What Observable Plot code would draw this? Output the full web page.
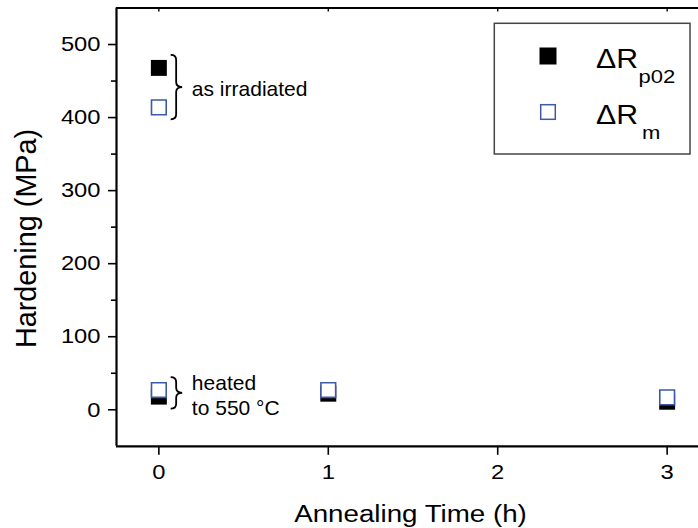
<!DOCTYPE html>
<html><head><meta charset="utf-8">
<script src="https://cdn.jsdelivr.net/npm/d3@7"></script>
<script src="https://cdn.jsdelivr.net/npm/@observablehq/plot@0.6"></script>
<style>
html,body{margin:0;padding:0;background:#fff;overflow:hidden}
#chart{width:698px;height:528px;overflow:hidden;position:relative}
#chart svg{max-width:none !important;width:710px !important;height:528px !important;display:block}
</style></head><body><div id="chart"></div>
<script>
// ---- data ----
const time = [0, 0, 1, 3];
const rp02 = [468, 18, 22, 11];
const rm = [414, 27, 27, 17];
const seriesMain = ["ΔR", "ΔR"];
const seriesSub = ["p02", "m"];
const xTicks = [0, 1, 2, 3];
const yTicks = [0, 100, 200, 300, 400, 500];
const yMinor = [50, 150, 250, 350, 450];
const annText = ["as irradiated", "heated\nto 550 °C"];
const annY = [440, 21];
const annGroups = [[0], [1]]; // indices of points each brace embraces
const xTitle = "Annealing Time (h)";
const yTitle = "Hardening (MPa)";

const blue = "#3d5aa8";
const font = "'Liberation Sans', Arial, sans-serif";

const pts = time.map((t, i) => ({t, p02: rp02[i], m: rm[i]}));
const anns = annText.map((s, i) => ({s, y: annY[i]}));

const plot = Plot.plot({
  width: 710, height: 528,
  marginLeft: 116, marginRight: 1, marginTop: 7.5, marginBottom: 82.2,
  style: {fontFamily: font, background: "#fff", color: "#000"},
  x: {domain: [-0.25, 3.25]},
  y: {domain: [-50, 550]},
  marks: [
    Plot.axisY({ticks: yTicks, tickSize: 8, tickPadding: 8, fontSize: 21, label: null, strokeWidth: 1.6, tickFormat: d => String(d)}),
    Plot.axisY({ticks: yMinor, tickSize: 5, tickFormat: () => "", label: null, strokeWidth: 1.6}),
    Plot.axisX({ticks: xTicks, tickSize: 9, tickPadding: 9, fontSize: 21, label: null, strokeWidth: 1.6, tickFormat: d => String(d)}),
    Plot.axisX({anchor: "top", ticks: xTicks, tickSize: -3, tickFormat: () => "", label: null, strokeWidth: 1.4}),
    Plot.ruleX([-0.25], {strokeWidth: 2.2}),
    Plot.ruleY([-50], {strokeWidth: 2.2}),
    Plot.ruleY([550], {strokeWidth: 2}),
    Plot.dot(pts, {x: "t", y: "p02", symbol: "square", r: 9, fill: "#000", stroke: "none"}),
    Plot.dot(pts, {x: "t", y: "m", symbol: "square", r: 8.3, fill: "#fff", stroke: blue, strokeWidth: 1.6}),
    Plot.text(anns, {x: () => 0, y: "y", text: "s", dx: 33, textAnchor: "start", fontSize: 21, lineHeight: 1.19, fill: "#000"}),
    Plot.text([xTitle], {frameAnchor: "bottom", lineAnchor: "top", dy: 59.2, dx: -2.5, fontSize: 23.3, fill: "#000"}),
    Plot.text([yTitle], {frameAnchor: "left", textAnchor: "middle", rotate: -90, dx: -90, dy: 11.3, fontSize: 28.8, fill: "#000"})
  ]
});
document.getElementById("chart").appendChild(plot);

const svg = d3.select(plot);
function stretch(sel, k) {
  sel.each(function () {
    const L = this.getComputedTextLength();
    if (L > 0) {
      this.setAttribute("textLength", L * k);
      this.setAttribute("lengthAdjust", "spacingAndGlyphs");
    }
  });
}
stretch(svg.selectAll('g[aria-label="y-axis tick label"] text'), 1.13);
stretch(svg.selectAll('g[aria-label="x-axis tick label"] text'), 1.13);
stretch(svg.selectAll("text").filter(function () { return this.textContent === xTitle; }), 1.19);

// braces
const sx = plot.scale("x"), sy = plot.scale("y");
const braces = svg.append("g").attr("fill", "none").attr("stroke", "#000").attr("stroke-width", 1.8);
annGroups.forEach(g => {
  const vals = g.flatMap(i => [rp02[i], rm[i]]);
  const top = sy.apply(d3.max(vals)) - 12.5;
  const bot = sy.apply(d3.min(vals)) + 12.5;
  const x0 = sx.apply(time[g[0]]) + 12.3;
  const xm = x0 + 5.5, x1 = x0 + 11.5;
  const mid = (top + bot) / 2;
  const r = Math.min(5, (bot - top) / 6);
  const p = d3.path();
  p.moveTo(x0, top);
  p.quadraticCurveTo(xm, top, xm, top + r);
  p.lineTo(xm, mid - r);
  p.quadraticCurveTo(xm, mid, x1, mid);
  p.quadraticCurveTo(xm, mid, xm, mid + r);
  p.lineTo(xm, bot - r);
  p.quadraticCurveTo(xm, bot, x0, bot);
  braces.append("path").attr("d", p.toString());
});

// legend
const lg = svg.append("g").attr("font-family", font).attr("text-anchor", "start").attr("fill", "#000");
lg.append("rect").attr("x", 494.3).attr("y", 23.3).attr("width", 195.7).attr("height", 130.7)
  .attr("fill", "#fff").attr("stroke", "#444").attr("stroke-width", 1.5);
seriesMain.forEach((name, i) => {
  const cy = 56 + i * 56;
  if (i === 0) {
    lg.append("rect").attr("x", 539.5).attr("y", cy - 8.5).attr("width", 17).attr("height", 17).attr("fill", "#000");
  } else {
    lg.append("rect").attr("x", 540.7).attr("y", cy - 7.3).attr("width", 14.6).attr("height", 14.6)
      .attr("fill", "#fff").attr("stroke", blue).attr("stroke-width", 1.5);
  }
  const base = cy + 11.7;
  const t = lg.append("text").attr("x", 596).attr("y", base).attr("font-size", 27).text(name);
  stretch(t, 1.12);
  const s = lg.append("text").attr("x", i === 0 ? 638.5 : 642).attr("y", base + 15.3).attr("font-size", 17.6).text(seriesSub[i]);
  stretch(s, 1.25);
});
</script>
</body></html>
